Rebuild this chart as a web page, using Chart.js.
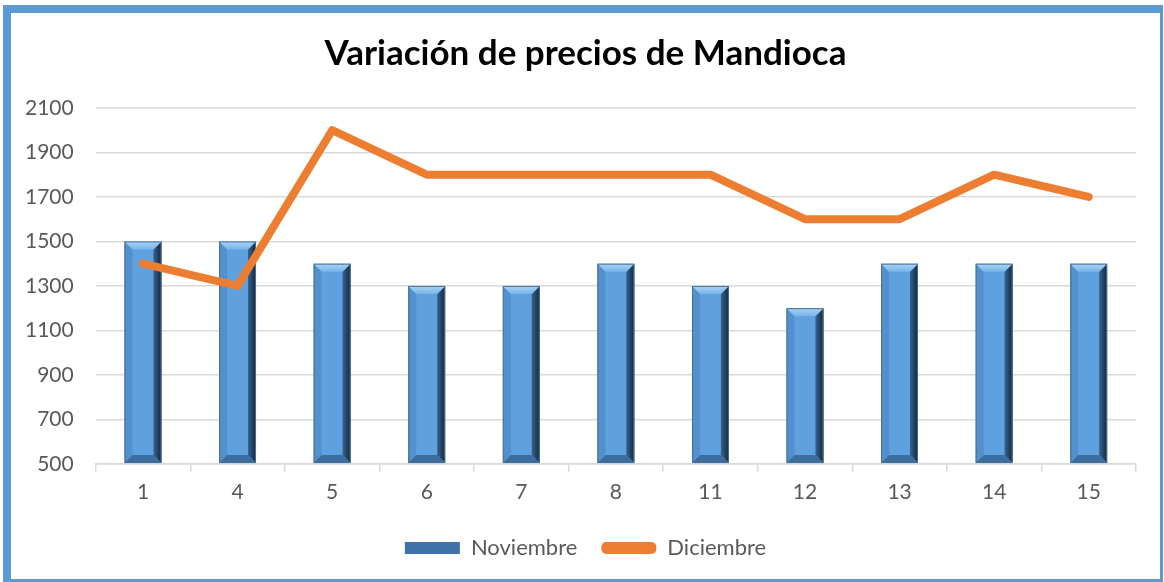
<!DOCTYPE html>
<html>
<head>
<meta charset="utf-8">
<script src="https://cdn.jsdelivr.net/npm/chart.js@4"></script>
<style>
  body { margin: 0; background: #fff; }
  #frame {
    position: absolute; left: 3px; top: 5px;
    width: 1149px; height: 566px;
    border-left: 8px solid #5b9bd5; border-top: 8px solid #5b9bd5;
    border-right: 3px solid #5b9bd5; border-bottom: 3px solid #5b9bd5;
    background: #fff;
  }
  canvas { display: block; }
</style>
</head>
<body>
<div id="frame"><canvas id="chart" width="1149" height="566"></canvas></div>
<script>
// data
const dias = ['1', '4', '5', '6', '7', '8', '11', '12', '13', '14', '15'];
const noviembre = [1500, 1500, 1400, 1300, 1300, 1400, 1300, 1200, 1400, 1400, 1400];
const diciembre = [1400, 1300, 2000, 1800, 1800, 1800, 1800, 1600, 1600, 1800, 1700];
const yTicks = [500, 700, 900, 1100, 1300, 1500, 1700, 1900, 2100];

const FONT = 'Lato, "Open Sans", sans-serif';

// bevel look for the bars
const bevelPlugin = {
  id: 'bevel',
  afterDatasetDraw(chart, args) {
    if (args.index !== 0) return;
    const ctx = chart.ctx;
    args.meta.data.forEach(bar => {
      const p = bar.getProps(['x', 'y', 'base', 'width'], true);
      const l = p.x - p.width / 2, r = p.x + p.width / 2;
      const t = p.y, b = p.base, s = 8;
      ctx.save();
      const poly = (pts, fill) => {
        ctx.beginPath();
        ctx.moveTo(pts[0][0], pts[0][1]);
        for (let i = 1; i < pts.length; i++) ctx.lineTo(pts[i][0], pts[i][1]);
        ctx.closePath();
        ctx.fillStyle = fill;
        ctx.fill();
      };
      // left
      poly([[l, t], [l + s, t + s], [l + s, b - s], [l, b]], '#5291cd');
      // right
      const g = ctx.createLinearGradient(r - s, 0, r, 0);
      g.addColorStop(0, '#35638f');
      g.addColorStop(1, '#14273b');
      poly([[r, t], [r, b], [r - s, b - s], [r - s, t + s]], g);
      // top
      const gt = ctx.createLinearGradient(0, t, 0, t + s);
      gt.addColorStop(0, '#a9d4f7');
      gt.addColorStop(1, '#78b4e9');
      poly([[l, t], [r, t], [r - s, t + s], [l + s, t + s]], gt);
      // bottom
      poly([[l, b], [l + s, b - s], [r - s, b - s], [r, b]], '#3b6e9f');
      ctx.strokeStyle = '#4a6f93';
      ctx.lineWidth = 1;
      ctx.strokeRect(l + 0.5, t + 0.5, p.width - 1, b - t - 1);
      ctx.restore();
    });
  }
};

new Chart(document.getElementById('chart'), {
  type: 'bar',
  data: {
    labels: dias,
    datasets: [{
      label: 'Noviembre',
      data: noviembre,
      backgroundColor: '#5fa1de',
      base: 500,
      categoryPercentage: 1,
      barPercentage: 0.39,
      order: 1
    }, {
      type: 'line',
      label: 'Diciembre',
      data: diciembre,
      borderColor: '#ed7d31',
      backgroundColor: '#ed7d31',
      borderWidth: 8,
      borderCapStyle: 'round',
      borderJoinStyle: 'round',
      pointRadius: 0,
      tension: 0,
      order: 0
    }]
  },
  options: {
    responsive: false,
    animation: false,
    layout: { padding: { left: 0, right: 0, top: 0, bottom: 10 } },
    plugins: {
      title: {
        display: true,
        text: 'Variación de precios de Mandioca',
        color: '#000',
        font: { family: FONT, size: 35, weight: 'bold' },
        padding: { top: 20, bottom: 33 }
      },
      legend: {
        position: 'bottom',
        labels: {
          color: '#595959',
          font: { family: FONT, size: 22 },
          boxWidth: 55,
          boxHeight: 12,
          padding: 24,
          useBorderRadius: true,
          sort: (a, b) => a.datasetIndex - b.datasetIndex,
          generateLabels(chart) {
            const items = Chart.defaults.plugins.legend.labels.generateLabels(chart);
            items.forEach(it => {
              it.lineWidth = 0;
              if (it.datasetIndex === 0) {
                it.fillStyle = '#3f73a8';
                it.borderRadius = 0;
              } else {
                it.fillStyle = '#ed7d31';
                it.borderRadius = 5;
              }
            });
            return items;
          }
        }
      },
      tooltip: { enabled: false }
    },
    scales: {
      x: {
        offset: true,
        grid: { offset: true, drawOnChartArea: false, color: '#d9d9d9', lineWidth: 1.5, tickLength: 8 },
        border: { color: '#d9d9d9', width: 1.5 },
        ticks: { color: '#595959', font: { family: FONT, size: 21 }, padding: 8 }
      },
      y: {
        min: 500,
        max: 2100,
        afterBuildTicks(axis) { axis.ticks = yTicks.map(v => ({ value: v })); },
        afterFit(axis) { axis.width -= 8; },
        grid: { color: '#d9d9d9', lineWidth: 1.5, drawTicks: false },
        border: { display: false },
        ticks: { color: '#595959', font: { family: FONT, size: 21 }, padding: 22, callback: v => String(v) }
      },
      y2: {
        position: 'right',
        min: 500,
        max: 2100,
        afterFit(axis) { axis.width = 24; },
        grid: { drawOnChartArea: false, drawTicks: false },
        border: { display: false },
        ticks: { display: false }
      }
    }
  },
  plugins: [bevelPlugin]
});
</script>
</body>
</html>
